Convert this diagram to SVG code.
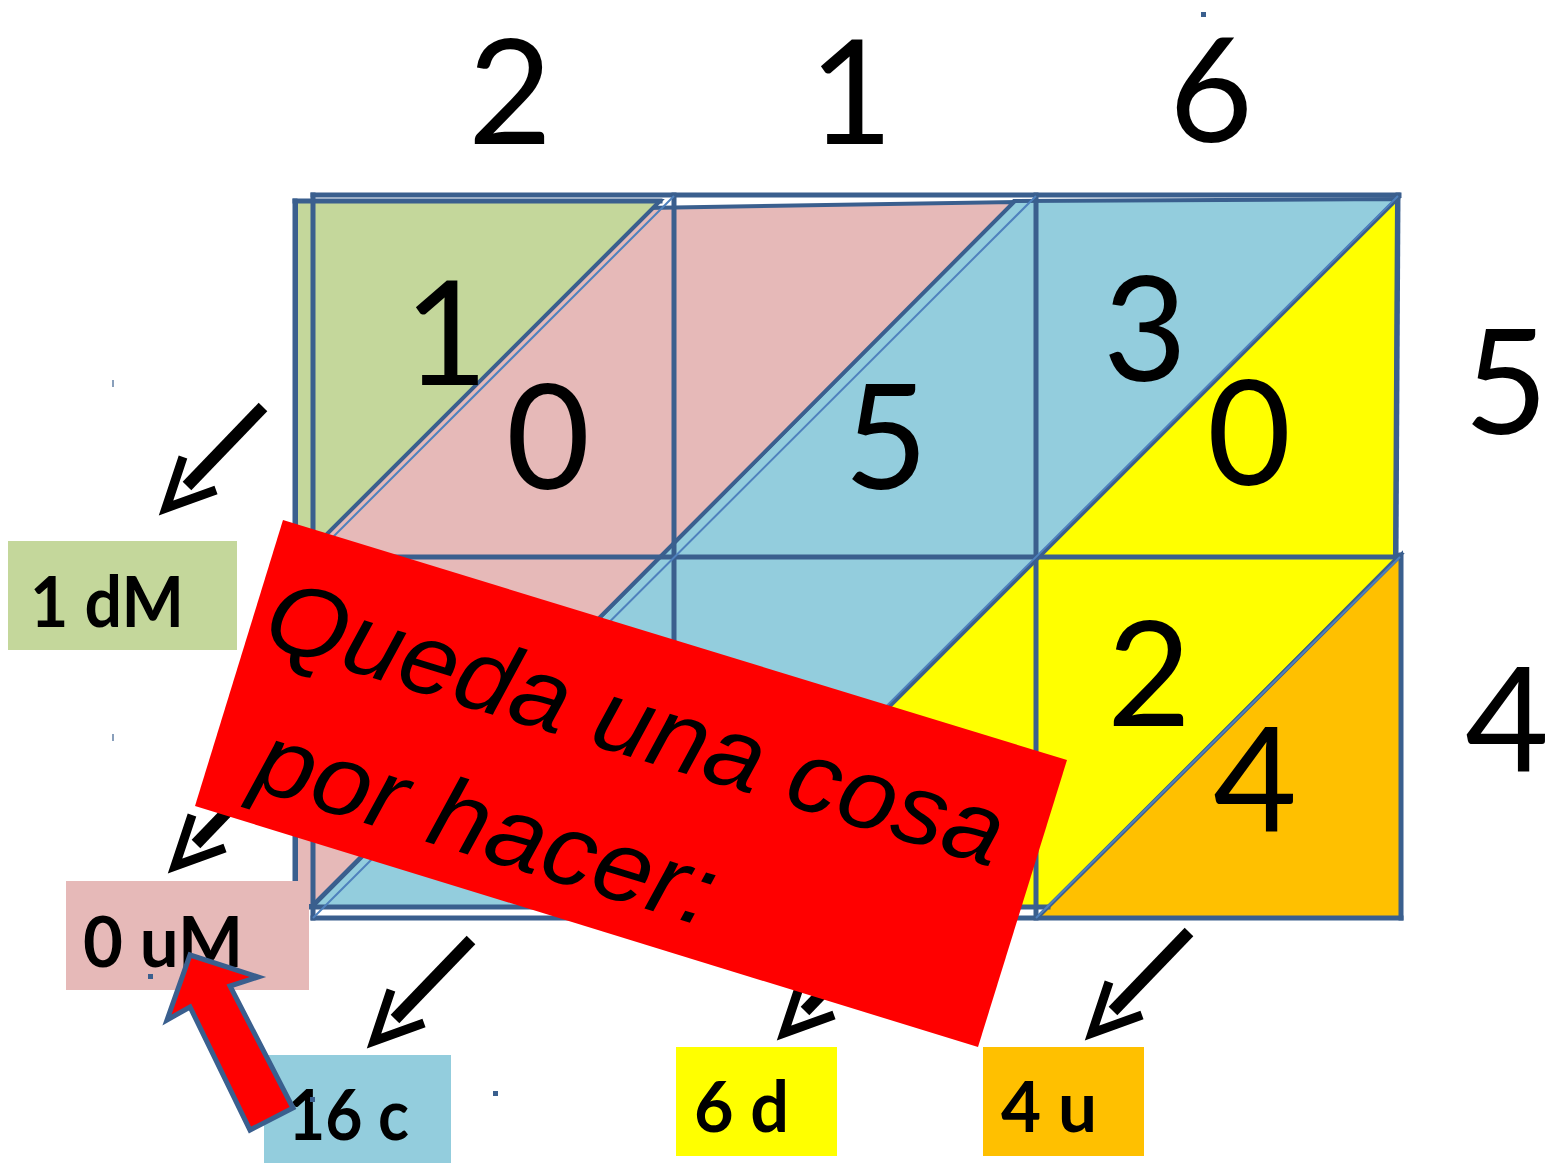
<svg xmlns="http://www.w3.org/2000/svg" xmlns:xlink="http://www.w3.org/1999/xlink" width="1548" height="1163" viewBox="0 0 1548 1163">
<style>
.grid{stroke:#3A5F8E;stroke-width:5;fill:none;stroke-linecap:square}
.band{stroke:#3A5F8E;stroke-width:4;stroke-linejoin:miter}
.thin{stroke:#4F81BD;stroke-width:2;fill:none}
.dig{font-family:Lato,"Liberation Sans",sans-serif;font-size:145px;text-anchor:middle;fill:#000}
.lbl{font-family:Lato,"Liberation Sans",sans-serif;font-weight:bold;font-size:71px;fill:#000}
.big{font-family:"Liberation Sans",Arial,sans-serif;font-style:italic;font-size:100px;fill:#000}
.shaft{stroke:#000;stroke-width:12;fill:none}
.head{stroke:#000;stroke-width:9;fill:none;stroke-linejoin:miter;stroke-miterlimit:10}
.mark{fill:#3A5F8E}
</style>
<defs>
<g id="openArrow">
<line class="shaft" x1="104" y1="-108" x2="28" y2="-29"/>
<polyline class="head" points="24,-58 7,-7 57,-25"/>
</g>
</defs>
<rect width="1548" height="1163" fill="#fff"/>

<g id="lattice">
<polygon class="band" fill="#93CDDD" points="1014,201 1397,199 689,907 312,907"/>
<polygon class="band" fill="#E6B9B8" points="296,560 645,208 1014,202 312,906 296,906"/>
<polygon class="band" fill="#C4D79B" points="296,201 660,201 296,565"/>
<polygon class="band" fill="#FFFF00" points="1397,199 1395,555 1400,555 1050,907 689,907"/>
<polygon class="band" fill="#FFC000" points="1401,555 1401,918 1037,918"/>
<g class="grid">
<line x1="295" y1="201" x2="660" y2="201"/>
<line x1="295" y1="201" x2="295" y2="907"/>
<line x1="295" y1="907" x2="1048" y2="907"/>
<line x1="313" y1="195" x2="1399" y2="195"/>
<line x1="313" y1="195" x2="313" y2="918"/>
<line x1="313" y1="918" x2="1401" y2="918"/>
<line x1="1398" y1="195" x2="1396" y2="557"/>
<line x1="1401" y1="555" x2="1401" y2="918"/>
<line x1="313" y1="557" x2="1400" y2="557"/>
<line x1="674" y1="195" x2="674" y2="918"/>
<line x1="1036" y1="195" x2="1036" y2="918"/>
</g>
<g class="thin">
<line x1="313" y1="557" x2="674" y2="196"/>
<line x1="313" y1="918" x2="1036" y2="196"/>
<line x1="674" y1="918" x2="1398" y2="196"/>
<line x1="1036" y1="918" x2="1400" y2="557"/>
</g>
<text class="dig" x="446" y="385">1</text>
<text class="dig" x="548" y="489">0</text>
<text class="dig" x="886" y="489">5</text>
<text class="dig" x="1145" y="381">3</text>
<text class="dig" x="1249" y="485">0</text>
<text class="dig" x="1149" y="726">2</text>
<text class="dig" x="1255" y="831">4</text>
</g>

<g id="factors">
<text class="dig" x="510" y="144">2</text>
<text class="dig" x="851" y="144">1</text>
<text class="dig" x="1211" y="142">6</text>
<text class="dig" x="1506" y="434">5</text>
<text class="dig" x="1507" y="771">4</text>
</g>

<g id="marks">
<rect class="mark" x="1201" y="12" width="5" height="5"/>
<rect class="mark" x="112" y="380" width="2" height="7" opacity="0.6"/>
<rect class="mark" x="112" y="734" width="2" height="7" opacity="0.6"/>
<rect class="mark" x="493" y="1091" width="5" height="5"/>
</g>

<g id="label-dM">
<rect x="8" y="541" width="229" height="109" fill="#C4D79B"/>
<text class="lbl" x="30" y="627" textLength="154" lengthAdjust="spacingAndGlyphs">1 dM</text>
</g>
<g id="label-uM">
<rect x="66" y="881" width="243" height="109" fill="#E6B9B8"/>
<text class="lbl" x="83" y="967" textLength="160" lengthAdjust="spacingAndGlyphs">0 uM</text>
<rect class="mark" x="148" y="974" width="5" height="5"/>
</g>
<g id="label-c">
<rect x="264" y="1055" width="187" height="108" fill="#93CDDD"/>
<text class="lbl" x="288" y="1140" textLength="121" lengthAdjust="spacingAndGlyphs">16 c</text>
<rect class="mark" x="310" y="1097" width="5" height="5"/>
</g>
<g id="label-d">
<rect x="676" y="1047" width="161" height="109" fill="#FFFF00"/>
<text class="lbl" x="694" y="1132" textLength="95" lengthAdjust="spacingAndGlyphs">6 d</text>
</g>
<g id="label-u">
<rect x="983" y="1047" width="161" height="109" fill="#FFC000"/>
<text class="lbl" x="1001" y="1132" textLength="96" lengthAdjust="spacingAndGlyphs">4 u</text>
</g>

<g id="connectors">
<use xlink:href="#openArrow" href="#openArrow" transform="translate(159,515)"/>
<use xlink:href="#openArrow" href="#openArrow" transform="translate(168,873)"/>
<use xlink:href="#openArrow" href="#openArrow" transform="translate(367,1048)"/>
<use xlink:href="#openArrow" href="#openArrow" transform="translate(777,1040)"/>
<use xlink:href="#openArrow" href="#openArrow" transform="translate(1085,1040)"/>
</g>

<g id="note">
<polygon fill="#FF0000" points="283,520 1067,760 978,1047 195,806"/>
<g transform="translate(283,520) rotate(17)">
<text class="big" x="14" y="125" textLength="766" lengthAdjust="spacingAndGlyphs">Queda una cosa</text>
<text class="big" x="46" y="266" textLength="476" lengthAdjust="spacingAndGlyphs">por hacer:</text>
</g>
</g>

<g id="block-arrow">
<polygon fill="#FF0000" stroke="#3A5F8E" stroke-width="5" stroke-linejoin="miter" points="190,955 258,977 230,986 293,1108 250,1130 190,1007 167,1020"/>
</g>
</svg>
